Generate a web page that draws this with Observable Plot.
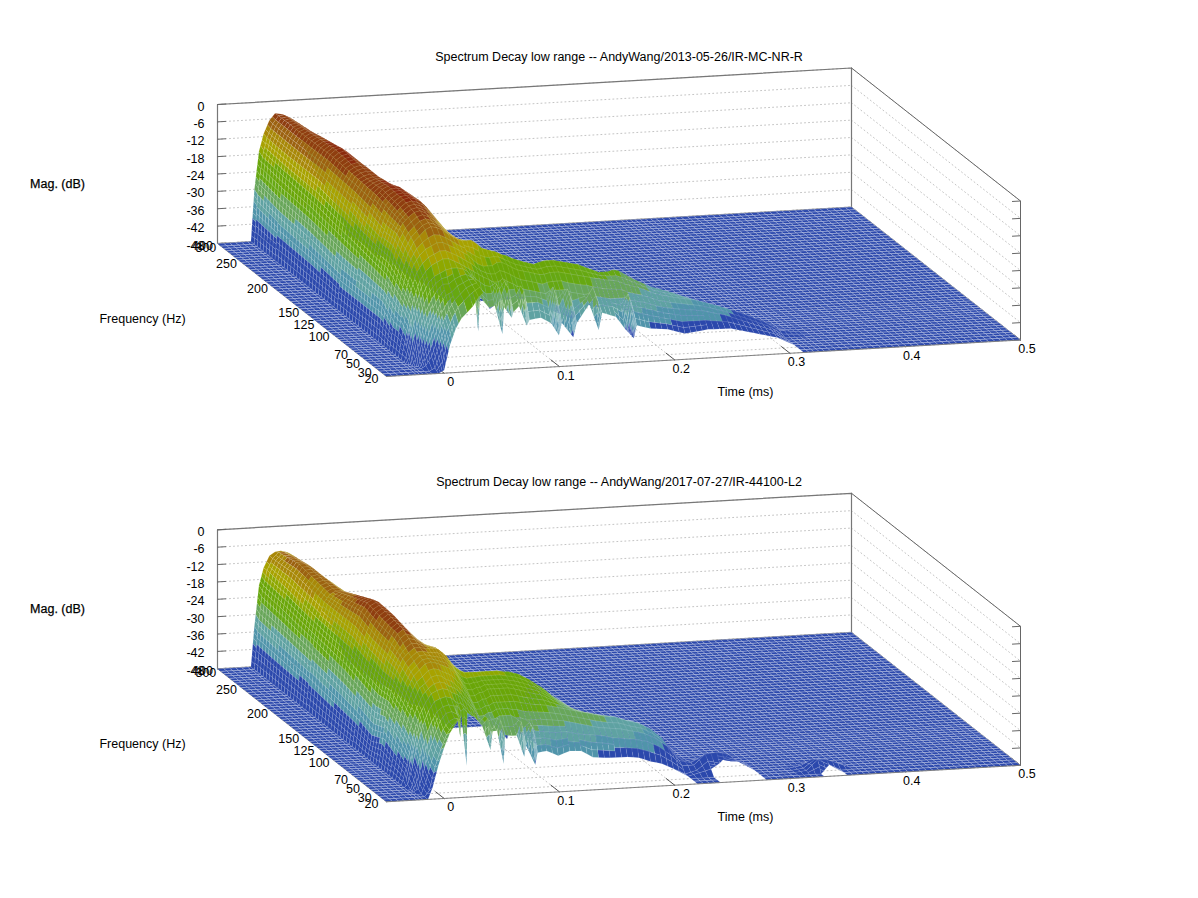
<!DOCTYPE html>
<html>
<head>
<meta charset="utf-8">
<style>html,body{margin:0;padding:0;background:#fff}svg{display:block}</style>
<script src="https://cdn.jsdelivr.net/npm/d3@7"></script>
<script src="https://cdn.jsdelivr.net/npm/@observablehq/plot@0.6"></script>
</head>
<body>
<div id="chart"></div>
<script>
const magTicks = [0,-6,-12,-18,-24,-30,-36,-42,-48];
const timeTicks = [0,0.1,0.2,0.3,0.4,0.5];
const freqTicks = [20,30,50,70,100,125,150,200,250,300,400];
const freqDepth = [0,0.04,0.11,0.18,0.31,0.40,0.49,0.675,0.858,0.98,1];
const surfaceFreqs = [20,25,30,35,40,45,50,60,70,85,100,125,150,200,250,300,400];
const titleTop = "Spectrum Decay low range -- AndyWang/2013-05-26/IR-MC-NR-R";
const titleBottom = "Spectrum Decay low range -- AndyWang/2017-07-27/IR-44100-L2";
const magBreaks = [-39.5,-35,-30.5,-26,-22.8,-17.7,-15,-11.5,-8,-5,-2.5];
const magColors = ["#2b48ac","#5094aa","#5fa2a2","#68a65a","#66a812","#6aa608","#8ea800","#a8a200","#a88808","#9c6210","#8f3e10","#8c2a0c"];

// Upper panel: dB by time column; a row that ends early stays on the -48 floor; -60 means below range, nothing drawn
const topTimes = [-0.05,-0.024,-0.021,-0.018,-0.014,-0.01,-0.005,0,0.005,0.01,0.015,0.02,0.025,0.03,0.034,0.038,0.042,0.05,0.055,0.059,0.063,0.067,0.071,0.076,0.08,0.085,0.095,0.104,0.108,0.113,0.1205,0.126,0.137,0.1425,0.148,0.16,0.168,0.173,0.178,0.19,0.205,0.22,0.24,0.26,0.28,0.3,0.312,0.33,0.5];
const top20 = [-48,-48,-48,-48,-48,-48,-48,-47,-38.5,-33,-29.5,-27.5,-25.5,-22.5,-21,-60,-60,-60,-60,-60,-60,-60,-60,-60,-60,-60,-60,-60,-60,-60,-60,-60,-60,-60,-60,-60,-60,-60,-60,-60,-60,-60,-60,-60,-60,-60];
const top25 = [-48,-48,-48,-48,-48,-48,-47,-42,-35,-30,-26.5,-24.5,-22.5,-21,-20,-60,-60,-60,-60,-60,-60,-60,-60,-60,-60,-60,-60,-60,-60,-60,-60,-60,-60,-60,-60,-60,-60,-60,-60,-60,-60,-60,-60,-60,-60,-60];
const top30 = [-48,-48,-48,-48,-48,-47,-44,-38,-32,-28,-25,-23,-21,-20,-19.5,-60,-60,-60,-60,-60,-60,-60,-60,-60,-60,-60,-60,-60,-60,-60,-60,-60,-60,-60,-60,-60,-60,-60,-60,-60,-60,-60,-60,-60,-60,-60];
const top35 = [-48,-48,-48,-48,-48,-43,-37,-31,-27,-24,-23,-21,-20,-19,-19,-37,-60,-60,-60,-38.5,-60,-33,-60,-60,-36,-60,-60,-60,-40,-60,-41,-60,-60,-39,-60,-60,-60,-42.5,-60,-60,-60,-60,-60,-60,-60,-60];
const top40 = [-48,-48,-48,-48,-42,-36,-30,-26,-23,-21,-21,-19.5,-18.5,-18,-19,-22,-26,-30,-29.4,-24,-30,-24,-32,-30,-25,-35,-34.5,-36.6,-27,-36.6,-28,-37,-30.7,-28,-34,-35.6,-40,-31,-39,-40.4,-41,-42.8,-41.8,-42,-44,-46,-48];
const top45 = [-48,-48,-48,-44,-37,-31,-25,-21,-19,-18,-17,-16.5,-16.5,-17,-18,-20,-23,-26,-26,-23,-27,-23,-28,-27,-24,-30,-30,-32,-25,-32,-26,-33,-29.5,-26,-32,-33,-35,-29,-35,-36.5,-38,-39.5,-39.5,-40.5,-43,-45.5,-48];
const top50 = [-48,-48,-48,-42,-33,-27,-21,-18,-16,-15,-14,-14,-15,-16,-17,-18,-19,-21,-22,-23,-23,-22,-23,-24,-25,-26,-27,-28,-27,-27,-27,-28,-29,-29,-30,-31,-31,-31,-32,-33,-35,-36,-37,-39,-42,-45,-48];
const top60 = [-48,-48,-48,-40,-30,-23,-17,-14,-12,-11,-10,-10,-11,-12,-13,-14,-15,-18,-19,-19,-19,-18,-18,-19,-20,-21,-22,-23,-23,-22.5,-22.5,-23,-24,-24.5,-25,-26,-26.5,-27,-28,-29.5,-32,-33.5,-35,-37.5,-40.5,-44,-47,-48];
const top70 = [-48,-48,-48,-40,-28,-21,-15,-11,-9,-7,-6,-6.5,-7.5,-9,-10,-11,-11.5,-11.5,-13,-14.5,-15,-15.5,-16,-17,-17.5,-18.5,-20,-21,-20.5,-20,-20,-20.5,-21.5,-22,-23,-25,-25,-24.5,-25,-28,-31,-33,-36,-40,-43,-46,-48];
const top85 = [-48,-48,-48,-36,-25,-17,-11,-7.5,-5.5,-4,-3.5,-4.5,-6,-8,-9.5,-11,-12.5,-16,-18,-19,-21,-22,-24,-26,-28,-30,-33,-35,-36,-37,-39,-40,-42,-43,-44,-60,-60,-60,-60,-60,-60,-60];
const top100 = [-48,-48,-48,-36,-24,-17,-11,-6.5,-4,-2.5,-2,-2.5,-3.5,-5.5,-7.5,-9.5,-12,-16,-19,-22,-25,-28,-31,-34,-38,-42,-60,-60,-60,-60,-60,-60,-60,-60,-60,-60,-60,-60,-60,-60,-60];
const top125 = [-48,-48,-48,-36,-23,-16,-9,-5,-3,-2,-2,-2.5,-4,-7,-9.5,-12,-15,-21,-25,-28,-32,-35,-39,-43,-60,-60,-60,-60,-60,-60,-60,-60,-60,-60,-60,-60,-60,-60,-60];
const top150 = [-48,-48,-48,-36,-22,-14,-8,-4.5,-3.5,-3,-3,-5,-8,-11,-13.5,-16,-19,-25,-29,-32,-36,-39,-43,-48];
const top200 = [-48,-48,-48,-34,-20,-12,-7,-3.5,-2,-1.5,-3,-6,-10,-14,-17,-20,-23,-29,-33,-36,-40,-43,-48];
const top250 = [-48,-48,-48,-33,-19,-12,-7,-4,-3.2,-4,-6.5,-10,-14,-18,-21,-24,-27,-33,-37,-41,-45,-48];
const top300 = [-48,-48,-48,-31,-18,-11.5,-6.8,-4.1,-4,-5,-8,-11,-15,-19,-23,-26,-29,-34,-38,-42,-47,-48];
const top400 = [-48,-48,-48,-30,-17,-11,-6.5,-4.2,-4.5,-6,-9,-12,-16,-20,-24,-27,-30,-35,-39,-43,-48];

// Lower panel
const botTimes = [-0.05,-0.024,-0.021,-0.018,-0.014,-0.01,-0.005,0,0.005,0.01,0.015,0.0195,0.0225,0.0255,0.028,0.031,0.038,0.044,0.0487,0.053,0.057,0.06,0.064,0.07,0.074,0.078,0.082,0.0875,0.092,0.1,0.11,0.12,0.13,0.14,0.15,0.16,0.17,0.18,0.19,0.2,0.21,0.22,0.23,0.24,0.25,0.26,0.27,0.28,0.29,0.3,0.31,0.32,0.33,0.34,0.35,0.36,0.37,0.5];
const bot20 = [-48,-48,-48,-48,-48,-44,-36.5,-30.5,-25.5,-22.5,-20,-60,-60,-60,-60,-60,-60,-60,-60,-60,-60,-60,-60,-60,-60,-60,-60,-60,-60,-60,-60,-60,-60,-60,-60,-60,-60,-60,-60,-60,-60,-48,-48,-48,-60,-60,-60,-48,-48,-48,-48,-48,-48,-56,-48,-48];
const bot25 = [-48,-48,-48,-48,-48,-46,-38,-32,-27,-24,-22,-60,-60,-60,-60,-60,-60,-60,-60,-60,-60,-60,-60,-60,-60,-60,-60,-60,-60,-60,-60,-60,-60,-60,-60,-60,-60,-60,-60,-60,-60,-48,-48,-48,-60,-60,-60,-48,-48,-48,-48,-48,-48,-54,-48,-48];
const bot30 = [-48,-48,-48,-48,-48,-44,-37,-31,-26,-23.5,-22.5,-23,-60,-60,-60,-60,-60,-60,-60,-60,-60,-60,-60,-60,-60,-60,-60,-60,-60,-60,-60,-60,-60,-60,-60,-60,-60,-60,-60,-60,-60,-48,-48,-48,-60,-60,-60,-48,-48,-48,-48,-47.5,-44,-46,-48];
const bot35 = [-48,-48,-48,-48,-47,-42,-35,-29,-24,-21.5,-21,-22,-30,-60,-40,-60,-60,-60,-35,-60,-60,-40,-60,-60,-60,-38,-60,-41,-60,-60,-60,-60,-60,-60,-60,-60,-60,-60,-60,-60,-60,-48,-47,-46,-60,-60,-60,-48,-48,-48,-48,-47.5,-44.7,-45,-46.5,-48];
const bot40 = [-48,-48,-48,-48,-43,-37,-30,-25,-21.5,-20,-19.5,-20,-20,-22,-21,-22.5,-24.5,-27.3,-25,-29.4,-29.4,-26,-31,-31.4,-31.4,-27,-35,-29,-37.8,-37.3,-39.2,-37.8,-38,-40.4,-40.8,-41,-41,-41.5,-43,-44,-46,-48,-47,-44,-45,-60,-60,-48,-48,-48,-48,-47.5,-45.5,-45.5,-47,-48];
const bot45 = [-48,-48,-48,-47,-41,-34,-27,-22,-19,-18,-17.5,-18,-19,-20,-20,-21,-24,-27,-25,-30,-29,-26,-29,-29,-29,-27,-30,-28,-31,-31.5,-32,-32,-33,-33.5,-34,-35,-35.5,-36,-37,-39,-42,-46,-46,-42.5,-42,-43,-46,-48,-48,-48,-48,-48,-47,-47,-48];
const bot50 = [-48,-48,-48,-44,-37,-30,-24,-20,-17,-16,-15.5,-16,-17,-17.5,-18,-19,-22,-25,-28,-28,-27,-27,-26,-26,-26,-27,-27,-28,-28,-28,-28.5,-29,-30,-31,-32,-32.5,-33,-34,-35,-37,-40,-45,-46,-44,-44,-44.5,-46,-48];
const bot60 = [-48,-48,-48,-43,-34,-27,-21,-16.5,-15,-13,-12.5,-13,-14,-14.5,-15,-16,-19,-22,-25,-25,-24,-24,-23,-23,-23,-23,-23,-23.5,-24,-24.5,-25,-26,-27,-28,-29,-30,-30.4,-32,-33,-35.2,-38.6,-43.5,-48,-47,-46.5,-47,-48];
const bot70 = [-48,-48,-48,-42,-32,-25,-18,-14,-12,-10,-9.5,-10,-10.5,-11,-11.5,-12,-15,-19,-22,-22,-21,-21,-20,-20,-20,-20,-20,-20.5,-21,-22,-23,-25,-27,-29,-30,-31,-31.7,-33,-34,-36,-40,-44,-48];
const bot85 = [-48,-48,-48,-40,-29,-22,-15,-11,-9,-7.5,-7.5,-8,-8,-8,-8,-8.5,-11,-14.5,-16,-17,-17,-17,-17,-17,-17,-17,-17,-17.5,-17.6,-18.6,-20.8,-23.5,-26.8,-29.7,-33,-36,-39,-42,-45,-48];
const bot100 = [-48,-48,-48,-42,-30,-22,-14,-9,-5.5,-4,-5,-7,-8,-9,-9.5,-10,-11,-13,-16,-18,-20,-22,-24,-27,-30,-32,-34,-37,-40,-44,-60,-60];
const bot125 = [-48,-48,-48,-40,-28,-20,-13,-8,-4.5,-3,-3.5,-5.5,-7,-8.5,-10,-12,-17,-21,-25,-28,-31,-33,-36,-39,-42,-60,-60,-60,-60,-60,-60,-60];
const bot150 = [-48,-48,-48,-39,-26,-18,-11,-6,-3,-2,-3,-5,-6.5,-8,-9.5,-11,-16,-20,-24,-28,-31,-34,-37,-41,-44,-48];
const bot200 = [-48,-48,-48,-37,-24,-17,-11,-8.5,-7.5,-7.5,-8.5,-10.5,-12.5,-14.5,-16,-18,-23,-27,-31,-35,-39,-42,-45,-48];
const bot250 = [-48,-48,-48,-36,-22,-15,-9.5,-6.5,-6.5,-7.5,-9.5,-12,-14,-16,-18,-20,-25,-29,-33,-37,-41,-45,-48];
const bot300 = [-48,-48,-48,-35,-21,-14,-10,-8,-8,-8.7,-10.5,-13.5,-15.5,-17.5,-19.5,-21.5,-26,-30,-34,-38,-42,-45,-48];
const bot400 = [-48,-48,-48,-34,-20,-14,-10,-8.7,-8.5,-9,-11,-14,-16,-18,-20,-22,-27,-31,-35,-39,-43,-46,-48];

const topRows = [top20,top25,top30,top35,top40,top45,top50,top60,top70,top85,top100,top125,top150,top200,top250,top300,top400];
const botRows = [bot20,bot25,bot30,bot35,bot40,bot45,bot50,bot60,bot70,bot85,bot100,bot125,bot150,bot200,bot250,bot300,bot400];

// 3D view: the axis box's orthographic projection on the page
const depthOf = d3.scaleLinear().domain(freqTicks).range(freqDepth);
const alongOf = d3.scaleLinear().domain([-0.05,0.5]).range([0,1]);
const riseOf = d3.scaleLinear().domain([-48,0]).range([0,139]);
function viewDepth(t,d,z,shift){
  const a = alongOf(t);
  return {x:386+634*a-169*d, y:376-36.5*a-133*d-riseOf(z)+shift};
}
const FLOOR=-48;
function facets(times,rows,shift){
  const depths = surfaceFreqs.map(f=>depthOf(f));
  const out=[]; let id=0;
  const at=(r,i)=>{const v=rows[r][i]; return v===undefined?FLOOR:v;};
  for(let j=depths.length-2;j>=0;j--){
    for(let i=times.length-2;i>=0;i--){
      let c=[at(j,i),at(j,i+1),at(j+1,i),at(j+1,i+1)]; // (v,u): 00,10,01,11
      const missing=[0,1,2,3].filter(k=>c[k]<FLOOR);
      if(missing.length>1) continue;
      let cv=null,cu=null;
      if(missing.length===1){
        const m=missing[0];
        c[m]=c[m^1]+c[m^2]-c[m^3];
        cv=m&1; cu=(m>>1)&1;
      }
      const [z00,z10,z01,z11]=c;
      const Dt=times[i+1]-times[i],Dd=depths[j+1]-depths[j];
      let nt=Math.max(Math.ceil(Dt/0.0055-1e-6),Math.ceil(Math.max(Math.abs(z10-z00),Math.abs(z11-z01))/2.2));
      let nd=Math.max(Math.ceil(Dd/0.02-1e-6),Math.ceil(Math.max(Math.abs(z01-z00),Math.abs(z11-z10))/3));
      if(cv!==null){nd=Math.max(nd,3);}
      for(let q=nd-1;q>=0;q--){
        for(let p=nt-1;p>=0;p--){
          let poly=[[p/nt,q/nd],[(p+1)/nt,q/nd],[(p+1)/nt,(q+1)/nd],[p/nt,(q+1)/nd]];
          if(cv!==null){
            const f=P=>Math.abs(P[0]-cv)+Math.abs(P[1]-cu)-1;
            const kept=[];
            for(let k=0;k<poly.length;k++){
              const A=poly[k],B=poly[(k+1)%poly.length];
              const fa=f(A),fb=f(B);
              if(fa>=-1e-9) kept.push(A);
              if((fa>1e-9&&fb<-1e-9)||(fa<-1e-9&&fb>1e-9)){const s=fa/(fa-fb);kept.push([A[0]+s*(B[0]-A[0]),A[1]+s*(B[1]-A[1])]);}
            }
            poly=kept;
            if(poly.length<3) continue;
          }
          const pts=poly.map(([v,u])=>({t:times[i]+v*Dt,d:depths[j]+u*Dd,z:(1-v)*(1-u)*z00+v*(1-u)*z10+(1-v)*u*z01+v*u*z11}));
          const mean=d3.mean(pts,e=>e.z);
          id++;
          for(const e of pts){const P=viewDepth(e.t,e.d,e.z,shift);out.push({id,x:P.x,y:P.y,mag:mean});}
        }
      }
    }
  }
  return out;
}
function segs(list,ends,shift){
  const out=[];
  list.forEach((v,i)=>{for(const e of ends(v)){const P=viewDepth(e[0],e[1],e[2],shift);out.push({id:i,x:P.x,y:P.y});}});
  return out;
}
function panel(title,times,rows,height,shift){
  const T0=-0.05,T1=0.5;
  const backWall=segs(magTicks,m=>[[T0,1,m],[T1,1,m]],shift);
  const sideWall=segs(magTicks,m=>[[T1,1,m],[T1,0,m]],shift);
  const floorT=segs(timeTicks,t=>[[t,0,FLOOR],[t,1,FLOOR]],shift);
  const floorF=segs(freqTicks.map(f=>depthOf(f)),d=>[[T0,d,FLOOR],[T1,d,FLOOR]],shift);
  const frame=segs([0],()=>[[T0,1,FLOOR],[T0,1,0],[T1,1,0],[T1,1,FLOOR]],shift);
  const frameSide=segs([0],()=>[[T1,1,0],[T1,0,0],[T1,0,FLOOR]],shift);
  const edgeFront=segs([0],()=>[[T0,0,FLOOR],[T1,0,FLOOR]],shift);
  const edgeRest=segs([0],()=>[[T0,0,FLOOR],[T0,1,FLOOR],[T1,1,FLOOR],[T1,0,FLOOR]],shift);
  const zTicks=segs(magTicks,m=>[[T0,1,m],[T0+0.007,1,m]],shift);
  const zTicksR=segs(magTicks,m=>[[T1,0,m],[T1-0.007,0,m]],shift);
  const tTicks=segs(timeTicks,t=>[[t,0,FLOOR],[t,0.05,FLOOR]],shift);
  const cells=facets(times,rows,shift);
  const floorCells=cells.filter(c=>c.mag<=FLOOR+1e-6);
  const hillCells=cells.filter(c=>c.mag>FLOOR+1e-6);
  const line=(d,o)=>Plot.line(d,{x:"x",y:"y",z:"id",...o});
  const dotted={stroke:"#b4b4b4",strokeWidth:0.8,strokeDasharray:"1,3"};
  const tx=v=>viewDepth(v,0,FLOOR,shift);
  const fx=f=>viewDepth(T0,depthOf(f),FLOOR,shift);
  const mx=m=>viewDepth(T0,1,m,shift);
  const base={fill:"black",fontSize:12.5};
  return Plot.plot({
    width:1198,height,margin:0,
    style:{fontFamily:"'Liberation Sans',Arial,sans-serif",background:"white"},
    x:{domain:[0,1198],range:[0,1198],axis:null},
    y:{domain:[0,height],range:[0,height],axis:null},
    color:{type:"threshold",domain:magBreaks,range:magColors},
    marks:[
      line(backWall,dotted),line(sideWall,dotted),line(floorT,dotted),line(floorF,dotted),
      line(frame,{stroke:"#777",strokeWidth:1.2}),line(frameSide,{stroke:"#666",strokeWidth:1}),
      line(zTicks,{stroke:"#666",strokeWidth:1}),line(zTicksR,{stroke:"#666",strokeWidth:1}),
      line(tTicks,{stroke:"#555",strokeWidth:1}),
      line(edgeRest,{stroke:"#777",strokeWidth:0.9}),
      line(floorCells,{fill:"mag",stroke:"white",strokeOpacity:0.36,strokeWidth:0.7}),
      line(hillCells,{fill:"mag",stroke:"white",strokeOpacity:0.2,strokeWidth:0.5}),
      line(edgeFront,{stroke:"#777",strokeWidth:0.9}),
      Plot.text([title],{x:()=>618.5,y:()=>56+shift,text:d=>d,...base}),
      Plot.text(magTicks,{x:m=>mx(m).x,y:m=>mx(m).y,text:d=>String(d),...base,textAnchor:"end",dx:-13,dy:2}),
      Plot.text(freqTicks,{x:f=>fx(f).x,y:f=>fx(f).y,text:d=>String(d),...base,dx:-15,dy:2}),
      Plot.text(timeTicks,{x:t=>tx(t).x,y:t=>tx(t).y,text:d=>String(d),...base,dx:6.5,dy:9}),
      Plot.text(["Mag. (dB)"],{x:()=>57,y:()=>183+shift,text:d=>d,...base,stroke:"black",strokeWidth:0.25}),
      Plot.text(["Frequency (Hz)"],{x:()=>142,y:()=>318+shift,text:d=>d,...base}),
      Plot.text(["Time (ms)"],{x:()=>745,y:()=>391+shift,text:d=>d,...base})
    ]
  });
}
const host=document.getElementById("chart");
host.append(panel(titleTop,topTimes,topRows,426,0));
host.append(panel(titleBottom,botTimes,botRows,472,-0.7));
</script>
</body>
</html>
